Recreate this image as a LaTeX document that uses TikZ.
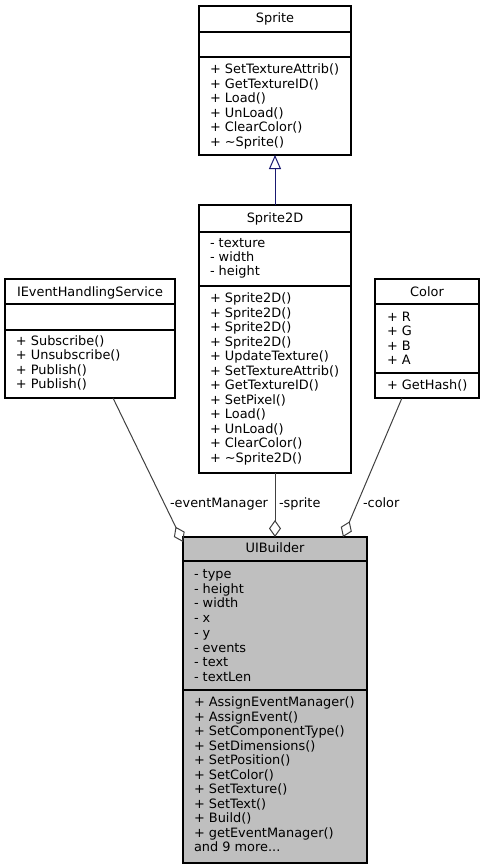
\documentclass[tikz,border=0pt]{standalone}
\usepackage{fontspec}
\setmainfont{DejaVu Sans}
\usetikzlibrary{arrows.meta,calc}
\definecolor{edgegray}{HTML}{404040}
\definecolor{inherit}{HTML}{191970}
\definecolor{focus}{HTML}{BFBFBF}

\tikzset{
  classbox/.style={draw=black, line width=1.1pt, fill=white, rectangle,
    inner sep=0pt, outer sep=0pt, anchor=north west},
  focusbox/.style={classbox, fill=focus},
  txt/.style={inner sep=0pt, outer sep=0pt, font=\fontsize{12.9}{14.5}\selectfont},
  member/.style={txt, anchor=base west},
  ctitle/.style={txt, anchor=base},
  sep/.style={draw=black, line width=1.1pt},
  assoc/.style={draw=edgegray, line width=1pt,
    -{Diamond[open, length=17pt, width=12pt, line width=1pt]}},
  inh/.style={draw=inherit, line width=1pt,
    -{Triangle[open, length=14pt, width=12pt, line width=1pt]}},
  role/.style={txt},
}

\begin{document}
\begin{tikzpicture}[x=1pt, y=-1pt]
\useasboundingbox (0,0) rectangle (484,868);

% ---- Sprite ----
\node[classbox, minimum width=152, minimum height=149] (sprite) at (199,6) {};
\draw[sep] (199,32) -- (351,32);
\draw[sep] (199,57) -- (351,57);
\node[ctitle] (sprite-t) at (275,22.5) {Sprite};
\foreach \m [count=\i from 0] in {+ SetTextureAttrib(), + GetTextureID(), + Load(),
    + UnLoad(), + ClearColor(), + \textasciitilde Sprite()}
  \node[member] (sprite-m\i) at (210,{73.8+14.5*\i}) {\m};

% ---- Sprite2D ----
\node[classbox, minimum width=152, minimum height=268] (s2d) at (199,205) {};
\draw[sep] (199,232) -- (351,232);
\draw[sep] (199,286) -- (351,286);
\node[ctitle] (s2d-t) at (275,222.5) {Sprite2D};
\foreach \m [count=\i from 0] in {- texture, - width, - height}
  \node[member] (s2d-a\i) at (210,{247.8+14*\i}) {\m};
\foreach \m [count=\i from 0] in {+ Sprite2D(), + Sprite2D(), + Sprite2D(), + Sprite2D(),
    + UpdateTexture(), + SetTextureAttrib(), + GetTextureID(), + SetPixel(),
    + Load(), + UnLoad(), + ClearColor(), + \textasciitilde Sprite2D()}
  \node[member] (s2d-m\i) at (210,{302.5+14.5*\i}) {\m};

% ---- IEventHandlingService ----
\node[classbox, minimum width=170, minimum height=119] (ieh) at (5,279) {};
\draw[sep] (5,304) -- (175,304);
\draw[sep] (5,330) -- (175,330);
\node[ctitle] (ieh-t) at (90,296.5) {IEventHandlingService};
\foreach \m [count=\i from 0] in {+ Subscribe(), + Unsubscribe(), + Publish(), + Publish()}
  \node[member] (ieh-m\i) at (16,{345.5+14.3*\i}) {\m};

% ---- Color ----
\node[classbox, minimum width=104, minimum height=119] (color) at (375,279) {};
\draw[sep] (375,304) -- (479,304);
\draw[sep] (375,373) -- (479,373);
\node[ctitle] (color-t) at (427,296) {Color};
\foreach \m [count=\i from 0] in {+ R, + G, + B, + A}
  \node[member] (color-a\i) at (387,{321.5+14.3*\i}) {\m};
\node[member] (color-m0) at (387,389.5) {+ GetHash()};

% ---- UIBuilder ----
\node[focusbox, minimum width=184, minimum height=326] (uib) at (183,537) {};
\draw[sep] (183,561) -- (367,561);
\draw[sep] (183,690) -- (367,690);
\node[ctitle] (uib-t) at (275,552.5) {UIBuilder};
\foreach \m [count=\i from 0] in {- type, - height, - width, - x, - y, - events, - text, - textLen}
  \node[member] (uib-a\i) at (194,{578.5+14.7*\i}) {\m};
\foreach \m [count=\i from 0] in {+ AssignEventManager(), + AssignEvent(), + SetComponentType(),
    + SetDimensions(), + SetPosition(), + SetColor(), + SetTexture(), + SetText(),
    + Build(), + getEventManager()}
  \node[member] (uib-m\i) at (194,{706.5+14.5*\i}) {\m};
\node[member] (uib-more) at (194,851.5) {and 9 more...};

% ---- relations ----
\draw[inh] (s2d.north) -- (sprite.south);
\draw[assoc] ($(ieh.south)+(23,0)$) -- ($(uib.north west)+(0,5)$);
\draw[assoc] (s2d.south) -- (uib.north);
\draw[assoc] ($(color.south)+(-25,0)$) -- ($(uib.north east)+(-24,0)$);

\node[role, anchor=base east] (lbl-event) at (268,507.5) {-eventManager};
\node[role, anchor=base west] (lbl-sprite) at (279,507.5) {-sprite};
\node[role, anchor=base west] (lbl-color) at (363,507.5) {-color};
\end{tikzpicture}
\end{document}
